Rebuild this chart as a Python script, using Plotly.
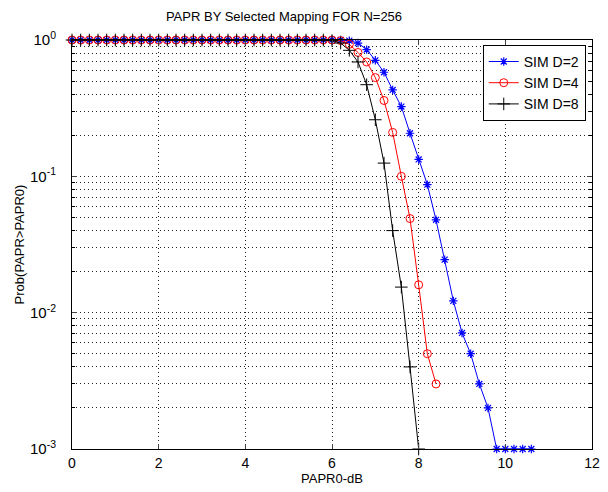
import plotly.graph_objects as go

papr0 = [0.0, 0.2, 0.4, 0.6, 0.8, 1.0, 1.2, 1.4, 1.6, 1.8,
         2.0, 2.2, 2.4, 2.6, 2.8, 3.0, 3.2, 3.4, 3.6, 3.8,
         4.0, 4.2, 4.4, 4.6, 4.8, 5.0, 5.2, 5.4, 5.6, 5.8,
         6.0, 6.2, 6.4, 6.6, 6.8, 7.0, 7.2, 7.4, 7.6, 7.8,
         8.0, 8.2, 8.4, 8.6, 8.8, 9.0, 9.2, 9.4, 9.6, 9.8,
         10.0, 10.2, 10.4, 10.6]

sim_d2 = [1.0, 1.0, 1.0, 1.0, 1.0, 1.0, 1.0, 1.0, 1.0, 1.0,
          1.0, 1.0, 1.0, 1.0, 1.0, 1.0, 1.0, 1.0, 1.0, 1.0,
          1.0, 1.0, 1.0, 1.0, 1.0, 1.0, 1.0, 1.0, 1.0, 1.0,
          1.0, 1.0, 0.99, 0.95, 0.85, 0.71, 0.58, 0.43, 0.325, 0.207,
          0.133, 0.087, 0.048, 0.0245, 0.0122, 0.0071, 0.005, 0.003, 0.002, 0.001,
          0.001, 0.001, 0.001, 0.001]

sim_d4 = [1.0, 1.0, 1.0, 1.0, 1.0, 1.0, 1.0, 1.0, 1.0, 1.0,
          1.0, 1.0, 1.0, 1.0, 1.0, 1.0, 1.0, 1.0, 1.0, 1.0,
          1.0, 1.0, 1.0, 1.0, 1.0, 1.0, 1.0, 1.0, 1.0, 1.0,
          1.0, 0.99, 0.93, 0.81, 0.69, 0.53, 0.36, 0.21, 0.10, 0.049,
          0.016, 0.005, 0.003]

sim_d8 = [1.0, 1.0, 1.0, 1.0, 1.0, 1.0, 1.0, 1.0, 1.0, 1.0,
          1.0, 1.0, 1.0, 1.0, 1.0, 1.0, 1.0, 1.0, 1.0, 1.0,
          1.0, 1.0, 1.0, 1.0, 1.0, 1.0, 1.0, 1.0, 1.0, 1.0,
          0.99, 0.95, 0.84, 0.69, 0.47, 0.26, 0.125, 0.040, 0.0154, 0.0040,
          0.001]

series_names = ["SIM D=2", "SIM D=4", "SIM D=8"]
x_ticks = [0, 2, 4, 6, 8, 10, 12]
y_ticks = [1e-3, 1e-2, 1e-1, 1]
y_tick_text = ["10<sup>-3</sup>", "10<sup>-2</sup>", "10<sup>-1</sup>", "10<sup>0</sup>"]
y_minor = [m * d for d in (1e-3, 1e-2, 1e-1) for m in (2, 3, 4, 5, 6, 7, 8, 9)]

font_family = "Liberation Sans, Arial, sans-serif"

fig = go.Figure()
fig.add_trace(go.Scatter(
    x=papr0[:len(sim_d2)], y=sim_d2, name=series_names[0], mode="lines+markers",
    line=dict(color="#0000ff", width=1),
    marker=dict(symbol="asterisk-open", size=7, color="#0000ff", line=dict(width=1.2, color="#0000ff")),
    cliponaxis=False))
fig.add_trace(go.Scatter(
    x=papr0[:len(sim_d4)], y=sim_d4, name=series_names[1], mode="lines+markers",
    line=dict(color="#ff0000", width=1),
    marker=dict(symbol="circle-open", size=8, color="#ff0000", line=dict(width=1, color="#ff0000")),
    cliponaxis=False))
fig.add_trace(go.Scatter(
    x=papr0[:len(sim_d8)], y=sim_d8, name=series_names[2], mode="lines+markers",
    line=dict(color="#000000", width=1),
    marker=dict(symbol="cross-thin-open", size=9, color="#000000", line=dict(width=1, color="#000000")),
    cliponaxis=False))

grid_dash = "1px,3px"
fig.update_layout(
    width=600, height=484,
    paper_bgcolor="white", plot_bgcolor="white",
    margin=dict(l=64, r=16, t=32, b=43, autoexpand=False),
    font=dict(family=font_family, size=13, color="#000"),
    title=dict(text="PAPR BY Selected Mapping FOR N=256", x=0.46, xanchor="center",
               y=1.0, yanchor="top", pad=dict(t=4, b=0), font=dict(size=13), automargin=False),
    showlegend=True,
    legend=dict(x=0.988, y=0.988, xanchor="right", yanchor="top",
                bgcolor="white", bordercolor="#000", borderwidth=1,
                font=dict(size=14), tracegroupgap=0),
    xaxis=dict(range=[0, 12], tickvals=x_ticks, ticks="inside", ticklen=5,
               showline=True, linecolor="#000", linewidth=1, mirror="allticks",
               showgrid=True, gridcolor="#222", griddash=grid_dash, gridwidth=1,
               zeroline=False, tickfont=dict(size=14), automargin=False,
               ticklabelstandoff=1,
               title=dict(text="PAPR0-dB", font=dict(size=13), standoff=4)),
    yaxis=dict(type="log", range=[-3, 0], tickvals=y_ticks, ticktext=y_tick_text,
               ticks="inside", ticklen=5, automargin=False,
               ticklabelstandoff=12,
               showline=True, linecolor="#000", linewidth=1, mirror="allticks",
               showgrid=True, gridcolor="#222", griddash=grid_dash, gridwidth=1,
               zeroline=False, tickfont=dict(size=15),
               minor=dict(tickvals=y_minor, ticks="inside", ticklen=3, tickcolor="#000",
                          showgrid=True, gridcolor="#222", griddash=grid_dash, gridwidth=1),
               title=dict(text="Prob(PAPR>PAPR0)", font=dict(size=13), standoff=2)),
)

fig.write_html("out.html")
